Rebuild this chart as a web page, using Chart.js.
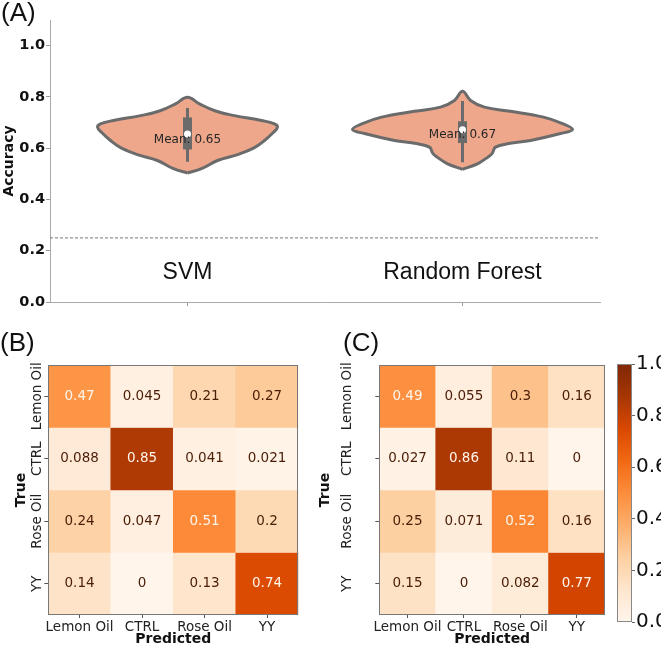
<!DOCTYPE html>
<html>
<head>
<meta charset="utf-8">
<script src="https://cdn.jsdelivr.net/npm/chart.js@4.4.1/dist/chart.umd.min.js"></script>
<style>
body{margin:0;background:#fff;}
#wrap{position:relative;width:661px;height:648px;overflow:hidden;background:#fff;}
canvas{position:absolute;}
.tag{position:absolute;font-family:"Liberation Sans",Arial,sans-serif;font-size:26px;line-height:1;color:#111;}
</style>
</head>
<body>
<div id="wrap">
  <canvas id="chartA" width="661" height="320" style="left:0;top:0"></canvas>
  <canvas id="chartB" width="312" height="328" style="left:0;top:320px"></canvas>
  <canvas id="chartC" width="298" height="328" style="left:312px;top:320px"></canvas>
  <canvas id="chartBar" width="51" height="300" style="left:610px;top:340px"></canvas>
  <div class="tag" style="left:1px;top:-1px">(A)</div>
  <div class="tag" style="left:0px;top:329px">(B)</div>
  <div class="tag" style="left:343px;top:329px">(C)</div>
</div>
<script>
// ---- panel A data ----
var models = ['SVM', 'Random Forest']
var means = [0.65, 0.67]
var medians = [0.655, 0.672]
var boxLow = [0.595, 0.62]
var boxHigh = [0.72, 0.705]
var whiskerLow = [0.547, 0.545]
var whiskerHigh = [0.757, 0.784]
var chanceLevel = 0.25
var accTicks = [0, 0.2, 0.4, 0.6, 0.8, 1.0]

// violin outlines: accuracy levels and relative density (1 = widest)
var svmLevels = [0.503, 0.52, 0.552, 0.575, 0.60, 0.63, 0.662, 0.682, 0.695, 0.708, 0.727, 0.745, 0.773, 0.799]
var svmDensity = [0, 0.127, 0.273, 0.455, 0.6, 0.7, 0.782, 0.818, 0.791, 0.673, 0.427, 0.255, 0.109, 0]
var rfLevels = [0.517, 0.54, 0.565, 0.58, 0.604, 0.618, 0.63, 0.657, 0.673, 0.696, 0.721, 0.744, 0.76, 0.786, 0.822]
var rfDensity = [0, 0.14, 0.23, 0.27, 0.3, 0.42, 0.618, 0.891, 1, 0.909, 0.736, 0.436, 0.2, 0.073, 0]

// ---- panels B / C data ----
var classes = ['Lemon Oil', 'CTRL', 'Rose Oil', 'YY']
var svmMatrix = [
  [0.47, 0.045, 0.21, 0.27],
  [0.088, 0.85, 0.041, 0.021],
  [0.24, 0.047, 0.51, 0.2],
  [0.14, 0, 0.13, 0.74]
]
var rfMatrix = [
  [0.49, 0.055, 0.3, 0.16],
  [0.027, 0.86, 0.11, 0],
  [0.25, 0.071, 0.52, 0.16],
  [0.15, 0, 0.082, 0.77]
]
var colorbarTicks = [0, 0.2, 0.4, 0.6, 0.8, 1.0]
var oranges = ['#fff5eb', '#fee6ce', '#fdd0a2', '#fdae6b', '#fd8d3c', '#f16913', '#d94801', '#a63603', '#7f2704']

var violinFill = '#eea78b'
var violinLine = '#6b6b6b'
var maxHalf = 0.4   // half width of the widest violin, in category units

function hex2rgb(h){
  return [parseInt(h.substr(1,2),16), parseInt(h.substr(3,2),16), parseInt(h.substr(5,2),16)]
}
function orangeAt(v){
  var p = Math.max(0, Math.min(1, v)) * (oranges.length - 1)
  var i = Math.min(Math.floor(p), oranges.length - 2)
  var t = p - i
  var a = hex2rgb(oranges[i]), b = hex2rgb(oranges[i+1])
  var c = a.map(function(x, k){ return Math.round(x + (b[k] - x) * t) })
  return 'rgb(' + c.join(',') + ')'
}

function violinPoints(center, levels, dens){
  var pts = []
  for (var i = 0; i < levels.length; i++) pts.push({x: center + dens[i] * maxHalf, y: levels[i]})
  for (var j = levels.length - 2; j >= 0; j--) pts.push({x: center - dens[j] * maxHalf, y: levels[j]})
  return pts
}

var fontD = '"DejaVu Sans", sans-serif'
var fontL = '"Liberation Sans", Arial, sans-serif'

// ---- panel A ----
var dsA = []
var shapes = [[svmLevels, svmDensity], [rfLevels, rfDensity]]
models.forEach(function(m, i){
  dsA.push({ data: violinPoints(i, shapes[i][0], shapes[i][1]), showLine: true, fill: 'shape',
    backgroundColor: violinFill, borderColor: violinLine, borderWidth: 3, tension: 0.4,
    pointRadius: 0, order: 4 })
  dsA.push({ data: [{x: i, y: whiskerLow[i]}, {x: i, y: whiskerHigh[i]}], showLine: true,
    borderColor: violinLine, borderWidth: 3, pointRadius: 0, order: 3 })
  dsA.push({ data: [{x: i, y: boxLow[i]}, {x: i, y: boxHigh[i]}], showLine: true,
    borderColor: violinLine, borderWidth: 9, borderCapStyle: 'butt', pointRadius: 0, order: 2 })
  dsA.push({ data: [{x: i, y: medians[i]}], pointRadius: 3.5, pointBackgroundColor: '#fff',
    pointBorderWidth: 0, order: 1 })
})
dsA.push({ data: [{x: -0.5, y: chanceLevel}, {x: 1.5, y: chanceLevel}], showLine: true,
  borderColor: '#777', borderWidth: 1, borderDash: [3, 2], pointRadius: 0, order: 5 })

var textA = {
  id: 'textA',
  afterDatasetsDraw: function(chart){
    var c = chart.ctx, xs = chart.scales.x, ys = chart.scales.y
    c.save()
    c.textAlign = 'center'
    c.textBaseline = 'middle'
    models.forEach(function(m, i){
      var x = xs.getPixelForValue(i)
      c.fillStyle = '#262626'
      c.font = '12px ' + fontD
      c.fillText('Mean: ' + means[i].toFixed(2), x, ys.getPixelForValue(means[i]) + 5)
      c.fillStyle = '#111'
      c.font = '23px ' + fontL
      c.fillText(m, x, ys.getPixelForValue(0.116))
    })
    c.restore()
  }
}

new Chart(document.getElementById('chartA'), {
  type: 'scatter',
  data: { datasets: dsA },
  options: {
    responsive: false, animation: false,
    layout: { padding: { top: 20, right: 61, left: 0, bottom: 0 } },
    plugins: { legend: {display: false}, tooltip: {enabled: false} },
    scales: {
      x: {
        type: 'linear', min: -0.5, max: 1.5,
        afterBuildTicks: function(s){ s.ticks = models.map(function(m, i){ return {value: i} }) },
        ticks: { display: false },
        grid: { display: true, drawOnChartArea: false, tickLength: 4, color: '#999' },
        border: { display: true, color: '#aaa', width: 1 },
        afterFit: function(s){ s.height = 18 }
      },
      y: {
        min: 0, max: 1.1,
        afterBuildTicks: function(s){ s.ticks = accTicks.map(function(v){ return {value: v} }) },
        ticks: { font: { family: fontD, size: 14.5, weight: 'bold' }, color: '#111', padding: 1,
          callback: function(v){ return v.toFixed(1) } },
        grid: { display: true, drawOnChartArea: false, tickLength: 4, color: '#999' },
        border: { display: true, color: '#aaa', width: 1 },
        title: { display: true, text: 'Accuracy', color: '#111', padding: {top: 1, bottom: 0},
          font: { family: fontD, size: 14, weight: 'bold' } },
        afterFit: function(s){ s.width = 50 }
      }
    }
  },
  plugins: [textA]
})

// ---- panels B / C ----
function heatmap(id, matrix, cfg){
  var hi = 0, lo = 1
  matrix.forEach(function(r){ r.forEach(function(v){ hi = Math.max(hi, v); lo = Math.min(lo, v) }) })
  var thresh = (hi + lo) / 2
  var ds = matrix.map(function(row, r){
    return { data: row.map(function(){ return [r, r + 1] }),
      backgroundColor: row.map(function(v){ return orangeAt(v) }),
      borderWidth: 0, barPercentage: 1, categoryPercentage: 1, grouped: false }
  })
  var cells = {
    id: 'cells',
    afterDatasetsDraw: function(chart){
      var c = chart.ctx, xs = chart.scales.x, ys = chart.scales.y, a = chart.chartArea
      c.save()
      c.font = '13.5px ' + fontD
      c.textAlign = 'center'
      c.textBaseline = 'middle'
      matrix.forEach(function(row, r){
        row.forEach(function(v, k){
          c.fillStyle = v > thresh ? oranges[0] : '#4a1d06'
          c.fillText(String(v), xs.getPixelForValue(k), ys.getPixelForValue(r + 0.5))
        })
      })
      c.strokeStyle = '#777'
      c.lineWidth = 1
      c.strokeRect(Math.round(a.left) + 0.5, Math.round(a.top) + 0.5, Math.round(a.right - a.left) - 1, Math.round(a.bottom - a.top) - 1)
      c.fillStyle = '#222'
      classes.forEach(function(name, r){
        c.save()
        c.translate(a.left - cfg.labelGap, ys.getPixelForValue(r + 0.5))
        c.rotate(-Math.PI / 2)
        c.fillText(name, 0, 0)
        c.restore()
      })
      c.restore()
    }
  }
  new Chart(document.getElementById(id), {
    type: 'bar',
    data: { labels: classes, datasets: ds },
    options: {
      responsive: false, animation: false,
      layout: { padding: { top: 45, right: cfg.right, left: 0, bottom: 0 } },
      plugins: { legend: {display: false}, tooltip: {enabled: false} },
      scales: {
        x: {
          ticks: { font: { family: fontD, size: 13.5 }, color: '#222', padding: 1, maxRotation: 0, autoSkip: false },
          grid: { display: true, offset: false, drawOnChartArea: false, tickLength: 3, color: '#555' },
          border: { display: false },
          title: { display: true, text: 'Predicted', color: '#111', padding: {top: 0, bottom: 0},
            font: { family: fontD, size: 14, weight: 'bold' } },
          afterFit: function(s){ s.height = 33 }
        },
        y: {
          min: 0, max: 4, reverse: true,
          afterBuildTicks: function(s){ s.ticks = classes.map(function(n, i){ return {value: i + 0.5} }) },
          ticks: { display: false },
          grid: { display: true, drawOnChartArea: false, tickLength: 4, color: '#555' },
          border: { display: false },
          title: { display: true, text: 'True', color: '#111', padding: {top: cfg.titlePad, bottom: 0},
            font: { family: fontD, size: 14, weight: 'bold' } },
          afterFit: function(s){ s.width = cfg.left }
        }
      }
    },
    plugins: [cells]
  })
}

heatmap('chartB', svmMatrix, { left: 48.3, right: 13.7, titlePad: 12.5, labelGap: 11 })
heatmap('chartC', rfMatrix, { left: 67.3, right: 5, titlePad: 4.5, labelGap: 32 })

// ---- colorbar ----
var frame = {
  id: 'frame',
  afterDatasetsDraw: function(chart){
    var c = chart.ctx, a = chart.chartArea
    c.save()
    c.strokeStyle = '#888'
    c.lineWidth = 1
    c.strokeRect(Math.round(a.left) + 0.5, Math.round(a.top) + 0.5, Math.round(a.right - a.left) - 1, Math.round(a.bottom - a.top) - 1)
    c.restore()
  }
}
new Chart(document.getElementById('chartBar'), {
  type: 'bar',
  data: { labels: [''], datasets: [{
    data: [[0, 1]], borderWidth: 0, barPercentage: 1, categoryPercentage: 1,
    backgroundColor: function(ctx){
      var chart = ctx.chart, ys = chart.scales.y
      var y0 = ys ? ys.getPixelForValue(0) : NaN, y1 = ys ? ys.getPixelForValue(1) : NaN
      if (!isFinite(y0) || !isFinite(y1) || y0 === y1) return oranges[4]
      var g = chart.ctx.createLinearGradient(0, y0, 0, y1)
      oranges.forEach(function(col, i){ g.addColorStop(i / (oranges.length - 1), col) })
      return g
    }
  }] },
  options: {
    responsive: false, animation: false,
    layout: { padding: { top: 24, right: 0, left: 7, bottom: 18 } },
    plugins: { legend: {display: false}, tooltip: {enabled: false} },
    scales: {
      x: { display: false },
      y: {
        position: 'right', min: 0, max: 1,
        afterBuildTicks: function(s){ s.ticks = colorbarTicks.map(function(v){ return {value: v} }) },
        ticks: { font: { family: fontD, size: 20 }, color: '#111', padding: 1,
          callback: function(v){ return v.toFixed(1) } },
        grid: { display: true, drawOnChartArea: false, tickLength: 3, color: '#666' },
        border: { display: false },
        afterFit: function(s){ s.width = 29 }
      }
    }
  },
  plugins: [frame]
})
</script>
</body>
</html>
